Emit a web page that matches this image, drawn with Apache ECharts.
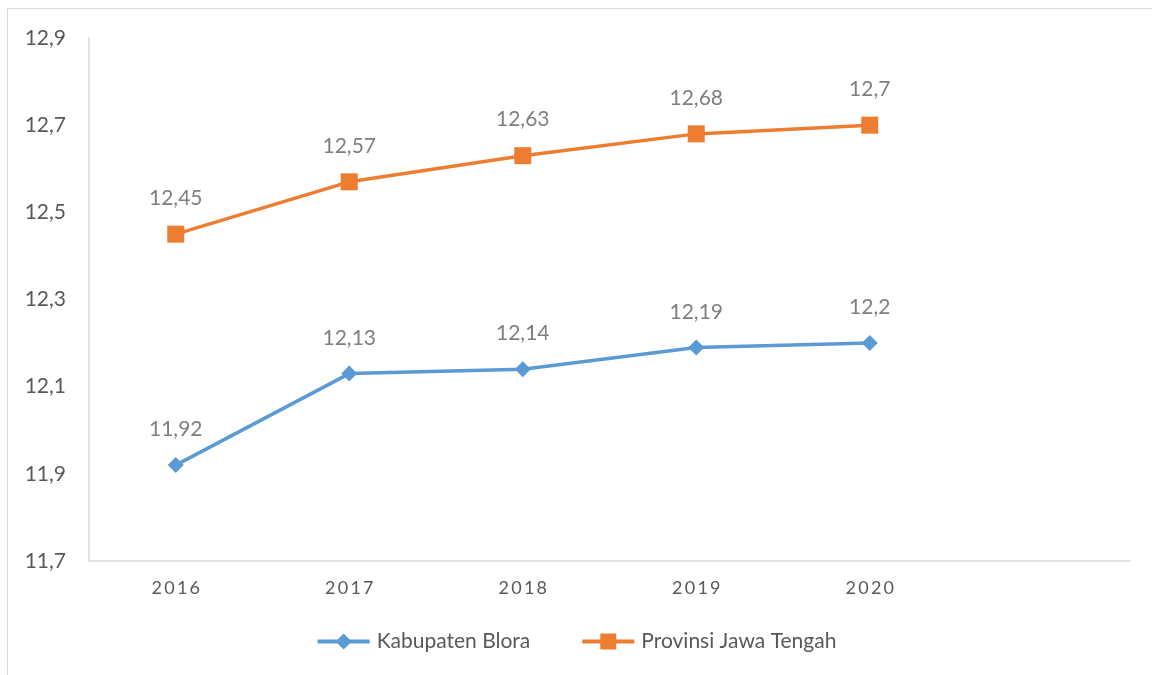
<!DOCTYPE html>
<html><head><meta charset="utf-8">
<script src="https://cdn.jsdelivr.net/npm/echarts@6/dist/echarts.min.js"></script>
<style>html,body{margin:0;padding:0;background:#fff}#c{width:1152px;height:675px}</style>
</head><body><div id="c"></div>
<script>
const categories = ['2016', '2017', '2018', '2019', '2020', ''];
const blora = [11.92, 12.13, 12.14, 12.19, 12.2];
const jateng = [12.45, 12.57, 12.63, 12.68, 12.7];
const seriesNames = ['Kabupaten Blora', 'Provinsi Jawa Tengah'];
const yTicks = { min: 11.7, max: 12.9, interval: 0.2 };

const fmt = v => String(Math.round(v * 100) / 100).replace('.', ',');
const FONT = 'Lato, "Liberation Sans", sans-serif';
const chart = echarts.init(document.getElementById('c'), null, { renderer: 'canvas' });
chart.setOption({
  backgroundColor: '#fff',
  animation: false,
  textStyle: { fontFamily: FONT },
  graphic: [{ type: 'rect', shape: { x: 7.5, y: 8.5, width: 1300, height: 800 }, style: { fill: 'none', stroke: '#d9d9d9', lineWidth: 1 }, silent: true }],
  grid: { left: 89, right: 22, top: 38, bottom: 114, containLabel: false },
  legend: {
    bottom: 18, left: 'center', itemWidth: 52, itemHeight: 20, itemGap: 50,
    lineStyle: { width: 4 },
    textStyle: { fontSize: 21, color: '#595959', fontFamily: FONT, padding: [0, 0, 0, 2] },
    data: seriesNames
  },
  xAxis: {
    type: 'category', data: categories, boundaryGap: true,
    axisLine: { lineStyle: { color: '#d9d9d9', width: 1.5 } },
    axisTick: { show: false },
    axisLabel: { fontSize: 18, color: '#595959', margin: 18, fontFamily: FONT,
      formatter: v => v.split('').join('\u2009') }
  },
  yAxis: {
    type: 'value', min: yTicks.min, max: yTicks.max, interval: yTicks.interval,
    axisLine: { show: true, lineStyle: { color: '#d9d9d9', width: 1.5 } },
    axisTick: { show: false },
    splitLine: { show: false },
    axisLabel: { fontSize: 21, color: '#595959', margin: 23, fontFamily: FONT, formatter: v => fmt(v) }
  },
  series: [
    {
      name: seriesNames[0], type: 'line', data: blora,
      symbol: 'diamond', symbolSize: 16,
      lineStyle: { color: '#5b9bd5', width: 3.5 },
      itemStyle: { color: '#5b9bd5' },
      label: { show: true, position: 'top', distance: 17, fontSize: 21, color: '#7f7f7f', fontFamily: FONT, formatter: p => fmt(p.value) }
    },
    {
      name: seriesNames[1], type: 'line', data: jateng,
      symbol: 'rect', symbolSize: 17,
      lineStyle: { color: '#ed7d31', width: 3.5 },
      itemStyle: { color: '#ed7d31' },
      label: { show: true, position: 'top', distance: 17, fontSize: 21, color: '#7f7f7f', fontFamily: FONT, formatter: p => fmt(p.value) }
    }
  ]
});
</script></body></html>
